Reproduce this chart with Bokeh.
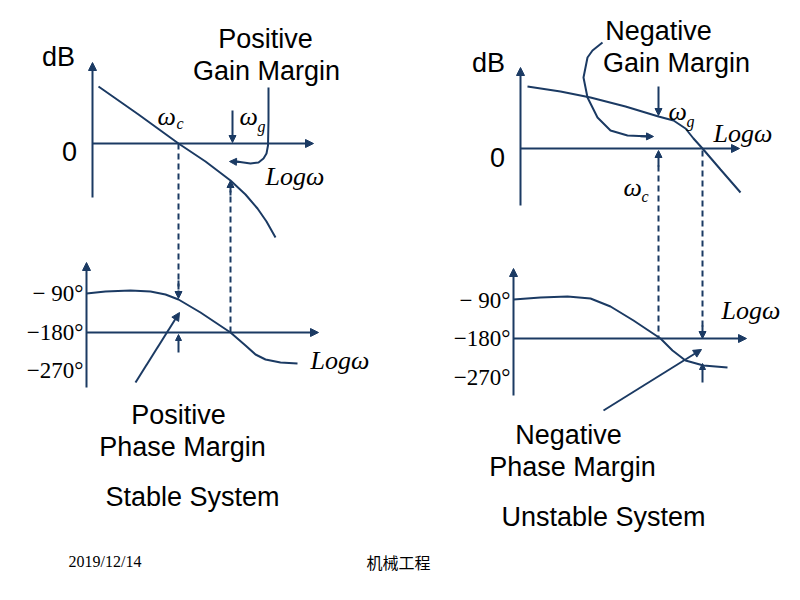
from bokeh.plotting import figure
from bokeh.models import Range1d, Arrow, NormalHead
from bokeh.core.properties import value
from bokeh.embed import file_html
from bokeh.resources import INLINE

C = "#1b3a63"
SANS = value("Liberation Sans")
SERIF = value("Liberation Serif")

# ---- data (schematic curves; pixel-like units) ----
stable_mag_x = [98, 138, 178, 205, 230, 245, 257, 266, 275]
stable_mag_y = [86, 114, 143, 161, 180, 194, 208, 221, 237]
stable_gm_x = [268, 268, 267.5, 266, 263, 258, 250, 236]
stable_gm_y = [87, 120, 145, 153, 158, 162, 163, 161]
stable_ph_x = [86, 105, 130, 150, 165, 178, 200, 215, 230, 245, 255, 265, 280, 297]
stable_ph_y = [293, 291, 290, 291, 294, 299, 312, 322, 332, 345, 354, 359, 362, 363]

unstable_mag_x = [527, 560, 590, 625, 658, 673, 685, 693, 702, 720, 740]
unstable_mag_y = [86, 91, 97, 106, 116, 120, 128, 138, 148, 169, 192]
unstable_gm_x = [602, 592, 587, 583, 587, 597, 610, 627, 650]
unstable_gm_y = [42, 50, 57, 77, 97, 117, 130, 135, 136]
unstable_ph_x = [513, 540, 567, 590, 610, 633, 648, 660, 672, 685, 703, 727]
unstable_ph_y = [299, 297, 296, 298, 306, 320, 330, 338, 350, 360, 365, 367]

phase_ticks = ["\u2212 90\u00b0", "\u2212180\u00b0", "\u2212270\u00b0"]
stable_tick_y = [293, 332, 370]
unstable_tick_y = [300, 338, 377]

p = figure(width=800, height=600, x_range=Range1d(0, 800), y_range=Range1d(600, 0),
           output_backend="svg", toolbar_location=None, x_axis_type=None, y_axis_type=None,
           min_border=0)
p.grid.visible = False
p.outline_line_color = None
p.background_fill_color = "white"


def arrow(x0, y0, x1, y1, size=8, dash="solid", lw=2):
    p.add_layout(Arrow(x_start=x0, y_start=y0, x_end=x1, y_end=y1,
                       end=NormalHead(size=size, fill_color=C, line_color=C, line_width=1),
                       line_color=C, line_width=lw, line_dash=dash))


def seg(x0, y0, x1, y1, dash="solid", lw=2):
    p.line([x0, x1], [y0, y1], line_color=C, line_width=lw, line_dash=dash)


# ---------------- Stable: magnitude ----------------
arrow(92, 197, 92, 62)
arrow(92, 143, 313, 143)
p.line(stable_mag_x, stable_mag_y, line_color=C, line_width=2)
p.line(stable_gm_x, stable_gm_y, line_color=C, line_width=2)
arrow(240, 161.5, 229, 161, size=7)
arrow(232, 110, 232, 142, size=7)
seg(178, 143, 178, 290, dash="6 4")
arrow(178, 280, 178, 298, size=7, dash="6 4")
seg(230, 332, 230, 190, dash="6 4")
arrow(230, 195, 230, 180, size=7)

# ---------------- Stable: phase ----------------
arrow(86, 387, 86, 262)
arrow(86, 332, 318, 332)
p.line(stable_ph_x, stable_ph_y, line_color=C, line_width=2)
arrow(178, 352, 178, 334, size=6)
arrow(135, 382, 179, 312, size=8)

# ---------------- Unstable: magnitude ----------------
arrow(520, 205, 520, 67)
arrow(520, 148, 739, 148)
p.line(unstable_mag_x, unstable_mag_y, line_color=C, line_width=2)
p.line(unstable_gm_x, unstable_gm_y, line_color=C, line_width=2)
arrow(640, 135.8, 653, 136, size=7)
arrow(658, 86, 658, 115, size=7)
seg(658, 165, 658, 338, dash="6 4")
arrow(658, 166, 658, 150, size=7)
seg(702, 150, 702, 328, dash="6 4")
arrow(702, 325, 702, 338, size=7, dash="6 4")

# ---------------- Unstable: phase ----------------
arrow(513, 395, 513, 268)
arrow(513, 338, 746, 338)
p.line(unstable_ph_x, unstable_ph_y, line_color=C, line_width=2)
arrow(702, 382, 702, 363, size=6)
arrow(603, 410, 701, 349, size=8)

# ---------------- Texts ----------------
def txt(x, y, t, size, font=SANS, align="center", style="normal", color="black"):
    p.text(x=[x], y=[y], text=[t], text_font=font, text_font_size=f"{size}px",
           text_align=align, text_baseline="middle", text_font_style=style, text_color=color)


TS = 27
txt(58, 56, "dB", TS)
txt(69, 151, "0", TS)
txt(265, 38, "Positive", TS)
txt(266, 70, "Gain Margin", TS)
txt(488, 62, "dB", TS)
txt(497, 157, "0", TS)
txt(658, 30, "Negative", TS)
txt(676, 62, "Gain Margin", TS)

txt(178, 414, "Positive", TS)
txt(182, 446, "Phase Margin", TS)
txt(192, 496, "Stable System", TS)
txt(568, 434, "Negative", TS)
txt(572, 466, "Phase Margin", TS)
txt(603, 516, "Unstable System", TS)

for lab, yy in zip(phase_ticks, stable_tick_y):
    txt(83, yy, lab, 23, font=SERIF, align="right")
for lab, yy in zip(phase_ticks, unstable_tick_y):
    txt(510, yy, lab, 23, font=SERIF, align="right")

txt(265, 176, "Log\u03c9", 26, font=SERIF, align="left", style="italic")
txt(310, 360, "Log\u03c9", 26, font=SERIF, align="left", style="italic")
txt(713, 133, "Log\u03c9", 26, font=SERIF, align="left", style="italic")
txt(721, 310, "Log\u03c9", 26, font=SERIF, align="left", style="italic")

# omega labels with subscripts
txt(157, 116, "\u03c9", 26, font=SERIF, align="left", style="italic")
txt(176, 123, "c", 16, font=SERIF, align="left", style="italic")
txt(239, 116, "\u03c9", 26, font=SERIF, align="left", style="italic")
txt(257, 126, "g", 16, font=SERIF, align="left", style="italic")
txt(668, 111, "\u03c9", 26, font=SERIF, align="left", style="italic")
txt(686, 121, "g", 16, font=SERIF, align="left", style="italic")
txt(623, 187, "\u03c9", 26, font=SERIF, align="left", style="italic")
txt(641, 196, "c", 16, font=SERIF, align="left", style="italic")

txt(68, 561, "2019/12/14", 16, font=SERIF, align="left")
txt(366, 561, "\u673a\u68b0\u5de5\u7a0b", 16, font=value("Noto Sans CJK SC"), align="left")

open("out.html", "w").write(file_html(p, INLINE))
